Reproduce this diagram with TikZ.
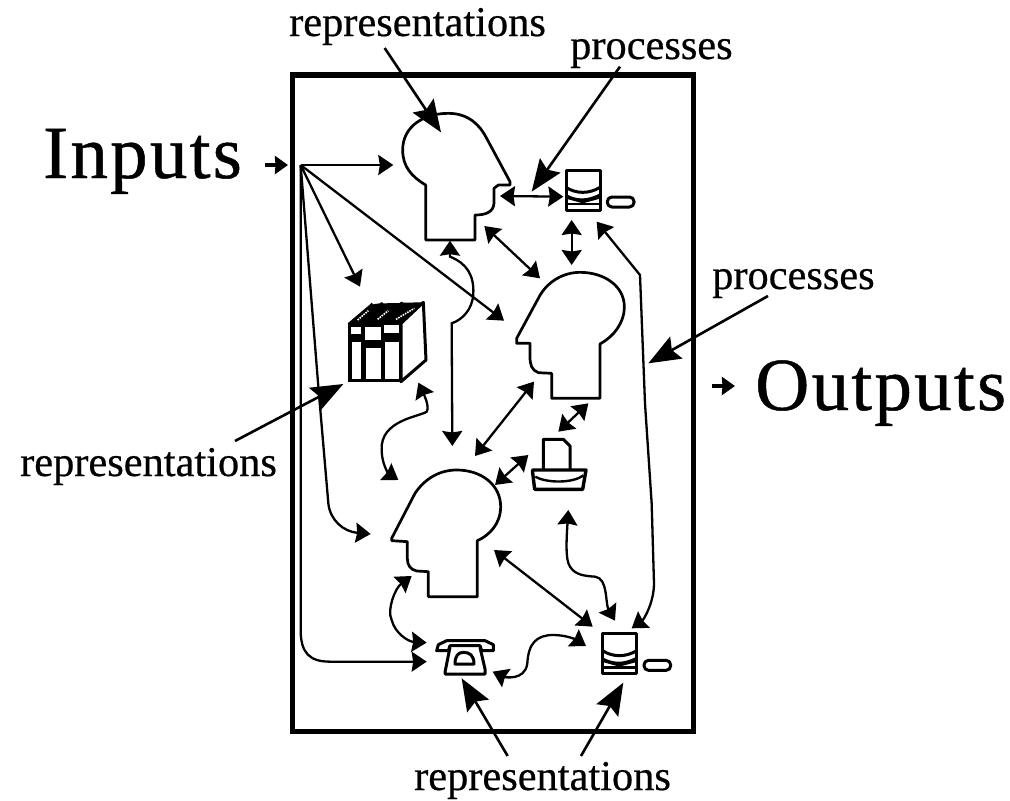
\documentclass[tikz,border=0pt]{standalone}
\usepackage{fontspec}
\setmainfont{Liberation Serif}
\newfontfamily\labelfont[FakeBold=0.5]{Liberation Serif}
\newfontfamily\widefont[LetterSpace=3,FakeBold=0.6]{Liberation Serif}
\usetikzlibrary{arrows.meta}
\tikzset{
  headshape/.style={draw,line width=2.7pt,line join=round,fill=white},
  icon/.style={draw,line width=3pt,line join=round},
  link/.style={line width=2.3pt,{Stealth[length=15pt,width=20pt,inset=1.5pt]}-{Stealth[length=15pt,width=20pt,inset=1.5pt]}},
  feed/.style={line width=2.3pt,-{Stealth[length=15pt,width=20pt,inset=1.5pt]}},
  callout/.style={line width=2.6pt,-{Stealth[length=32pt,width=25pt,inset=5pt]}},
  stub/.style={line width=3.6pt,-{Stealth[length=13pt,width=18pt,inset=0.5pt]}},
  smalltext/.style={anchor=base west,inner sep=0pt,font=\labelfont\fontsize{42.4}{48}\selectfont},
  bigtext/.style={anchor=base west,inner sep=0pt,font=\widefont\fontsize{75}{80}\selectfont},
  computer/.pic={
    \draw[icon] (0,0) rectangle (102,120);
    \draw[line width=3pt] (0,52) .. controls (30,72) and (70,72) .. (102,52);
    \fill (0,72) .. controls (30,88) and (60,92) .. (102,70) -- (102,86) -- (50,100) -- (0,86) -- cycle;
    \draw[line width=2.5pt] (0,102) -- (102,102);
    \draw[icon,rounded corners=4.5pt] (124,81) rectangle (204,111);
  },
  books/.pic={
    \fill (0,60) -- (65,5) -- (72,-2) -- (76,3) -- (96,0) -- (103,-4) -- (107,0) -- (155,-1) -- (162,-5) -- (167,-2) -- (227,-3) -- (160,60) -- cycle;
    \draw[icon,fill=white] (160,60) -- (227,-3) -- (235,170) -- (160,235) -- cycle;
    \fill (0,60) rectangle (160,235);
    \foreach \a/\b/\c/\d in {10/70/40/93, 13/115/40/228, 53/70/100/110, 55/135/100/228, 110/65/155/90, 113/115/155/228}
      \fill[white] (\a,\b) rectangle (\c,\d);
    \foreach \a/\b/\c/\d in {30/50/62/22, 90/48/122/22, 145/48/200/15}
      \draw[white,line width=1.6pt,densely dotted] (\a,\b) -- (\c,\d);
  },
  phone/.pic={
    \draw[icon,fill=white] (0,30) -- (5,12) -- (30,0) -- (145,0) -- (170,12) -- (170,30) -- (135,30) -- (130,15) -- (40,15) -- (35,30) -- cycle;
    \draw[icon] (40,20) -- (25,95) -- (25,100) -- (145,100) -- (145,85) -- (130,20);
    \draw[icon] (55,70) .. controls (55,45) and (65,35) .. (80,35) .. controls (100,35) and (112,45) .. (112,70) -- cycle;
  },
  printer/.pic={
    \draw[icon] (0,90) -- (0,0) -- (60,0) -- (80,20) -- (80,90);
    \draw[line width=3.4pt,line join=round] (-32,92) -- (128,92) -- (118,150) -- (-26,150) -- (-32,100) -- cycle;
    \draw[line width=2.4pt] (-24,112) .. controls (10,132) and (90,132) .. (120,108);
  }
}
\begin{document}
\begin{tikzpicture}[x=1pt,y=-1pt]
\useasboundingbox (0,0) rectangle (1010,801);
\fill[white] (0,0) rectangle (1010,801);

\node[bigtext] (inputs) at (43,178) {Inputs};
\node[bigtext] (outputs) at (755,410) {Outputs};
\node[smalltext] (repTop) at (289,36) {representations};
\node[smalltext] (procTop) at (570,59) {processes};
\node[smalltext] (procRight) at (712,289) {processes};
\node[smalltext] (repLeft) at (20,476) {representations};
\node[smalltext] (repBottom) at (414,790) {representations};

% everything inside the frame is laid out on a grid of thirds of a unit
\begin{scope}[shift={(280,70)},scale=1/3]
\draw[line width=5.5pt,line join=miter] (38,15) rectangle (1240,1985);

% heads
\draw[headshape] (437,510) -- (437,345) .. controls (395,320) and (368,290) .. (368,240)
  .. controls (368,170) and (430,130) .. (505,130) .. controls (565,130) and (600,165) .. (620,205)
  -- (690,335) -- (690,345) -- (655,345) -- (642,355) -- (642,400)
  .. controls (640,425) and (620,435) .. (585,435) -- (585,510) -- cycle;
\draw[headshape] (815,985) -- (815,910) -- (775,908) .. controls (755,900) and (750,885) .. (750,860)
  -- (750,820) -- (710,820) -- (710,805) -- (775,685) .. controls (800,635) and (850,607) .. (900,607)
  .. controls (975,607) and (1033,650) .. (1033,710) .. controls (1033,760) and (1000,800) .. (960,822)
  -- (960,985) -- cycle;
\draw[headshape] (445,1580) -- (445,1505) -- (410,1503) .. controls (390,1498) and (382,1485) .. (382,1465)
  -- (382,1415) -- (335,1412) -- (335,1405) -- (405,1270) .. controls (435,1225) and (480,1200) .. (530,1200)
  .. controls (605,1200) and (662,1245) .. (662,1310) .. controls (662,1360) and (630,1395) .. (592,1412)
  -- (592,1580) -- cycle;

% equipment and documents
\pic[transform shape] at (858,300) {computer};
\pic[transform shape] at (968,1690) {computer};
\pic[transform shape] at (203,700) {books};
\pic[transform shape] at (470,1712) {phone};
\pic[transform shape] at (790,1108) {printer};

% named ends of the connectors
\coordinate (inTail) at (-45,285);   \coordinate (inTip) at (24,285);
\coordinate (outTail) at (1296,948); \coordinate (outTip) at (1365,948);
\coordinate (hub) at (62,285);
\coordinate (headOneIn) at (340,285);
\coordinate (booksIn) at (240,650);
\coordinate (headTwoIn) at (672,752);
\coordinate (headThreeIn) at (272,1392);
\coordinate (phoneIn) at (440,1775);
\coordinate (headOneEar) at (660,378);  \coordinate (pcOne) at (850,380);
\coordinate (headOneNeck) at (613,468); \coordinate (headTwoTop) at (780,625);
\coordinate (pcOneBelow) at (875,450);  \coordinate (headTwoCrown) at (875,585);
\coordinate (pcOneRight) at (950,455);  \coordinate (pcTwoTop) at (1055,1675);
\coordinate (headOneBase) at (510,512); \coordinate (headThreeAbove) at (517,1128);
\coordinate (booksBase) at (415,938);   \coordinate (headThreeSide) at (355,1230);
\coordinate (headTwoChin) at (762,935); \coordinate (headThreeCrown) at (585,1158);
\coordinate (headTwoBase) at (925,1000);\coordinate (printerTop) at (835,1085);
\coordinate (printerSide) at (745,1155);\coordinate (headThreeBrow) at (645,1245);
\coordinate (printerBelow) at (865,1320);\coordinate (pcTwoAbove) at (1005,1652);
\coordinate (headThreeNeck) at (642,1440);\coordinate (pcTwoCorner) at (938,1670);
\coordinate (headThreeChin) at (395,1518);\coordinate (phoneAbove) at (440,1718);
\coordinate (phoneRight) at (638,1805); \coordinate (pcTwoLeft) at (918,1728);

\coordinate (repTopTail) at (314,-66);  \coordinate (repTopTip) at (483,187);
\coordinate (procTopTail) at (1020,-10);\coordinate (procTopTip) at (755,365);
\coordinate (procRightTail) at (1464,678);\coordinate (procRightTip) at (1105,880);
\coordinate (repLeftTail) at (-135,1113);\coordinate (repLeftTip) at (190,942);
\coordinate (repBotTailA) at (683,2058);\coordinate (repBotTipA) at (545,1825);
\coordinate (repBotTailB) at (903,2058);\coordinate (repBotTipB) at (1030,1838);

% inputs and outputs stubs
\draw[stub] (inTail) -- (inTip);
\draw[stub] (outTail) -- (outTip);

% fan of inputs
\draw[feed] (hub) -- (headOneIn);
\draw[feed] (hub) -- (booksIn);
\draw[feed] (hub) -- (headTwoIn);
\draw[feed] (hub) -- (115,950) -- (145,1300) .. controls (150,1350) and (190,1385) .. (headThreeIn);
\draw[feed] (hub) -- (62,1680) .. controls (62,1750) and (90,1775) .. (150,1775) -- (phoneIn);

% exchanges between the agents and their tools
\draw[link] (headOneEar) -- (pcOne);
\draw[link] (headOneNeck) -- (headTwoTop);
\draw[link] (pcOneBelow) -- (headTwoCrown);
\draw[link] (pcOneRight) -- (1080,615) -- (1095,1000) -- (1115,1300) -- (1122,1540)
  .. controls (1122,1600) and (1090,1650) .. (pcTwoTop);
\draw[link] (headOneBase) -- (510,560) .. controls (560,580) and (582,615) .. (580,670)
  .. controls (578,720) and (545,750) .. (515,760) -- (headThreeAbove);
\draw[link] (booksBase) .. controls (430,970) and (450,1010) .. (440,1025)
  .. controls (420,1040) and (300,1050) .. (305,1140) .. controls (305,1180) and (325,1210) .. (headThreeSide);
\draw[link] (headTwoChin) -- (headThreeCrown);
\draw[link] (headTwoBase) -- (printerTop);
\draw[link] (printerSide) -- (headThreeBrow);
\draw[link] (printerBelow) .. controls (860,1400) and (855,1470) .. (870,1490)
  .. controls (885,1515) and (915,1518) .. (945,1520) .. controls (985,1525) and (975,1600) .. (pcTwoAbove);
\draw[link] (headThreeNeck) -- (pcTwoCorner);
\draw[link] (headThreeChin) .. controls (345,1555) and (320,1620) .. (335,1650)
  .. controls (345,1690) and (385,1715) .. (phoneAbove);
\draw[link] (phoneRight) .. controls (670,1820) and (735,1835) .. (742,1780)
  .. controls (745,1720) and (770,1695) .. (820,1695) .. controls (860,1695) and (890,1710) .. (pcTwoLeft);

% label pointers
\draw[callout] (repTopTail) -- (repTopTip);
\draw[callout] (procTopTail) -- (procTopTip);
\draw[callout] (procRightTail) -- (procRightTip);
\draw[callout] (repLeftTail) -- (repLeftTip);
\draw[callout] (repBotTailA) -- (repBotTipA);
\draw[callout] (repBotTailB) -- (repBotTipB);
\end{scope}
\end{tikzpicture}
\end{document}
